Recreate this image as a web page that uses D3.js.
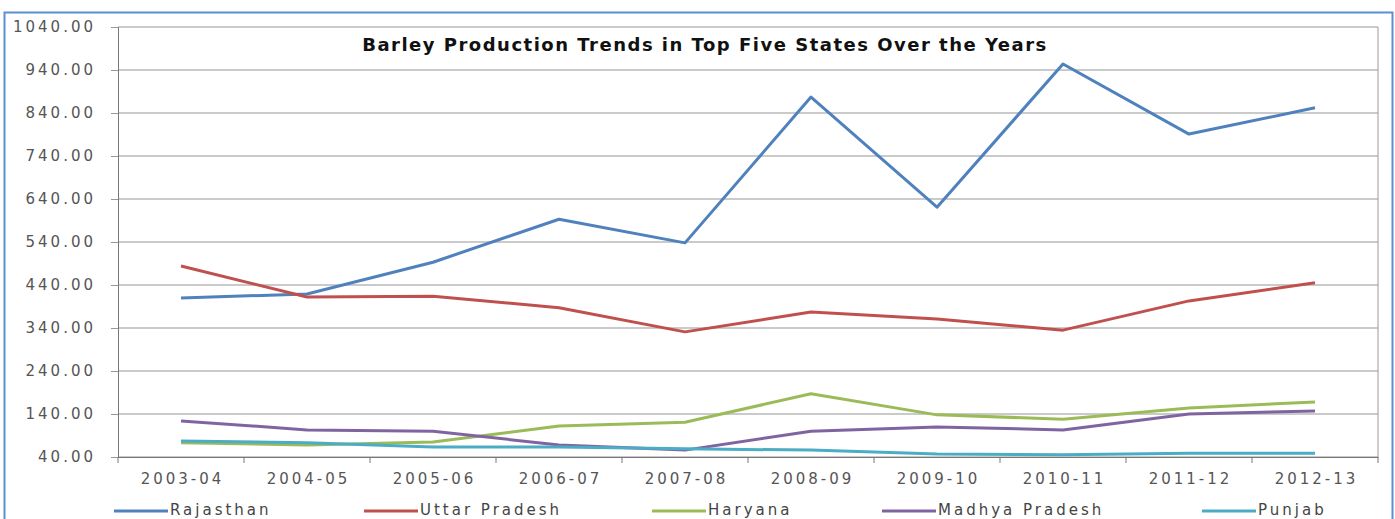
<!DOCTYPE html>
<html>
<head>
<meta charset="utf-8">
<script src="https://cdn.jsdelivr.net/npm/d3@7"></script>
<style>
  body { margin: 0; background: #fff; }
  text { font-family: "DejaVu Sans", Verdana, sans-serif; }
</style>
</head>
<body>
<div id="chart"></div>
<script>
// Data
var years = ["2003-04", "2004-05", "2005-06", "2006-07", "2007-08", "2008-09", "2009-10", "2010-11", "2011-12", "2012-13"];
var states = ["Rajasthan", "Uttar Pradesh", "Haryana", "Madhya Pradesh", "Punjab"];
var rajasthan = [410, 419, 493, 593, 538, 877, 621, 954, 791, 852];
var uttarPradesh = [484, 412, 414, 387, 331, 377, 361, 335, 403, 445];
var haryana = [73, 68, 75, 112, 121, 187, 138, 128, 154, 168];
var madhyaPradesh = [124, 103, 100, 68, 56, 100, 110, 103, 140, 147];
var punjab = [77, 73, 63, 63, 59, 56, 47, 45, 49, 49];
var yTicks = [40, 140, 240, 340, 440, 540, 640, 740, 840, 940, 1040];
var colors = ["#4f81bd", "#c0504d", "#9bbb59", "#8064a2", "#4bacc6"];

var seriesValues = [rajasthan, uttarPradesh, haryana, madhyaPradesh, punjab];

var width = 1395, height = 519;
var margin = {top: 27, right: 17, bottom: 62, left: 118};
var innerW = width - margin.left - margin.right,
    innerH = height - margin.top - margin.bottom;

var svg = d3.select("#chart").append("svg")
  .attr("width", width)
  .attr("height", height);

// outer frame
svg.append("rect")
  .attr("x", 4.5).attr("y", 12.5)
  .attr("width", 1388).attr("height", 520)
  .attr("fill", "none")
  .attr("stroke", "#5b8fd0")
  .attr("stroke-width", 2);

var g = svg.append("g")
  .attr("transform", "translate(" + margin.left + "," + margin.top + ")");

var x = d3.scaleBand().domain(years).range([0, innerW]);
var y = d3.scaleLinear().domain([40, 1040]).range([innerH, 0]);

// gridlines
g.selectAll(".grid")
  .data(yTicks).enter()
  .append("line")
    .attr("x1", 0).attr("x2", innerW)
    .attr("y1", function(d) { return y(d); })
    .attr("y2", function(d) { return y(d); })
    .attr("stroke", "#b8b8b8")
    .attr("stroke-width", 1.5);

// right edge of plot
g.append("line")
  .attr("x1", innerW).attr("x2", innerW)
  .attr("y1", 0).attr("y2", innerH)
  .attr("stroke", "#9a9a9a");

// y axis
var yAxis = g.append("g")
  .call(d3.axisLeft(y).tickValues(yTicks).tickFormat(d3.format(".2f")).tickSize(7).tickPadding(15));
yAxis.select(".domain").attr("stroke", "#777");
yAxis.selectAll(".tick line").attr("stroke", "#999");
yAxis.selectAll("text")
  .attr("fill", "#555")
  .style("font-size", "15px")
  .style("letter-spacing", "3px");

// x axis with ticks at band edges
var xAxis = g.append("g")
  .attr("transform", "translate(0," + innerH + ")")
  .call(d3.axisBottom(x).tickSize(0).tickPadding(16));
xAxis.select(".domain").attr("stroke", "#777");
xAxis.selectAll("text")
  .attr("fill", "#555")
  .attr("dx", "1.5px")
  .style("font-size", "15px")
  .style("letter-spacing", "3px");
g.selectAll(".xtick")
  .data(years.concat(["end"])).enter()
  .append("line")
    .attr("x1", function(d, i) { return i * x.step(); })
    .attr("x2", function(d, i) { return i * x.step(); })
    .attr("y1", innerH).attr("y2", innerH + 6)
    .attr("stroke", "#777");

// lines
var line = d3.line()
  .x(function(d, i) { return x(years[i]) + x.bandwidth() / 2; })
  .y(function(d) { return y(d); });

g.selectAll(".series")
  .data(seriesValues).enter()
  .append("path")
    .attr("d", line)
    .attr("fill", "none")
    .attr("stroke", function(d, i) { return colors[i]; })
    .attr("stroke-width", 3)
    .attr("stroke-linejoin", "round");

// title
svg.append("text")
  .attr("x", 705).attr("y", 51)
  .attr("text-anchor", "middle")
  .style("font-size", "18px")
  .style("font-weight", "bold")
  .style("letter-spacing", "1.5px")
  .attr("fill", "#111")
  .text("Barley Production Trends in Top Five States Over the Years");

// legend
var legendX = [114, 364, 652, 882, 1202];
var legend = svg.selectAll(".legend")
  .data(states).enter()
  .append("g")
    .attr("transform", function(d, i) { return "translate(" + legendX[i] + ",511)"; });
legend.append("line")
  .attr("x1", 0).attr("x2", 54)
  .attr("stroke", function(d, i) { return colors[i]; })
  .attr("stroke-width", 3);
legend.append("text")
  .attr("x", 56).attr("y", 4)
  .style("font-size", "15px")
  .style("letter-spacing", "3px")
  .attr("fill", "#444")
  .text(function(d) { return d; });
</script>
</body>
</html>
